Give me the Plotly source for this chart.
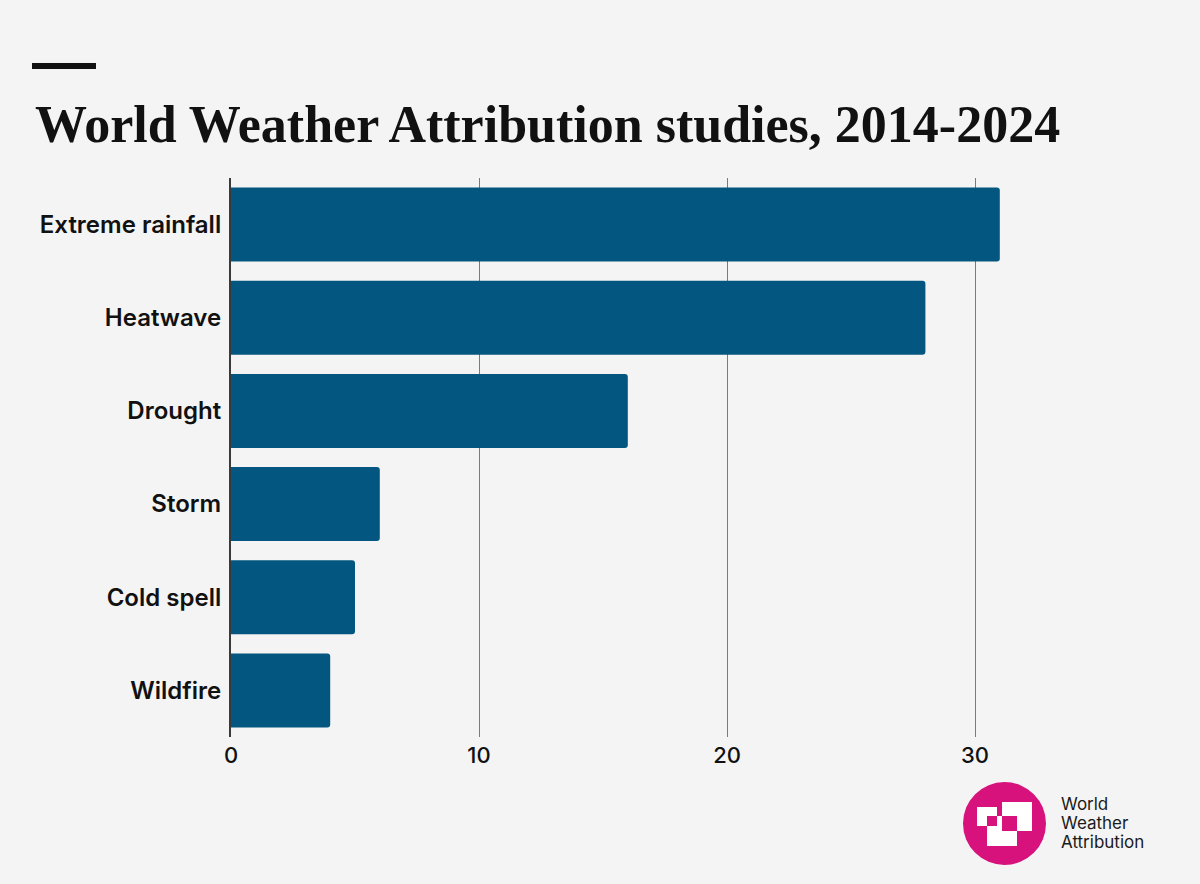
import plotly.graph_objects as go

# data
event_types = ["Extreme rainfall", "Heatwave", "Drought", "Storm", "Cold spell", "Wildfire"]
study_counts = [31, 28, 16, 6, 5, 4]
x_ticks = [0, 10, 20, 30]

W, H = 1200, 884
L, R, T, B = 231, 101, 178, 147
PW, PH = W - L - R, H - T - B

BAR = "#02567f"
PINK = "#d7127c"
BG = "#f4f4f4"


def px_x(p):
    return (p - L) / PW


def px_y(p):
    return (H - B - p) / PH


fig = go.Figure(go.Bar(
    x=study_counts,
    y=event_types,
    orientation="h",
    marker=dict(color=BAR, line=dict(width=0)),
    hoverinfo="x+y",
))

fig.update_layout(
    width=W, height=H,
    margin=dict(l=L, r=R, t=T, b=B),
    paper_bgcolor=BG, plot_bgcolor=BG,
    bargap=0.205,
    barcornerradius=3,
    showlegend=False,
    font=dict(family="Inter, Roboto, sans-serif", color="#111"),
)

fig.update_xaxes(
    range=[0, 35], tickvals=x_ticks, ticktext=[str(v) for v in x_ticks],
    showgrid=True, gridcolor="#7a7a7a", gridwidth=1,
    zeroline=False, showline=False, ticks="",
    tickfont=dict(size=22, weight=500, color="#111"),
    ticklabelstandoff=3, fixedrange=True,
)
fig.update_yaxes(
    autorange="reversed", showgrid=False, zeroline=False,
    showline=True, linecolor="#3a3a3a", linewidth=2, ticks="",
    tickfont=dict(size=24, weight=600, color="#111"),
    ticklabelstandoff=3, fixedrange=True,
)

# short rule above the title
fig.add_shape(type="rect", xref="paper", yref="paper",
              x0=px_x(32), x1=px_x(96), y0=px_y(69), y1=px_y(63),
              fillcolor="#111", line=dict(width=0))

fig.add_annotation(
    text="<b>World Weather Attribution studies, 2014-2024</b>",
    xref="paper", yref="paper", x=px_x(33), y=px_y(124),
    xanchor="left", yanchor="middle", showarrow=False,
    font=dict(family="Liberation Serif, Times New Roman, serif", size=52, color="#111"),
)

# logo: pink disc with overlapping squares
fig.add_shape(type="circle", xref="paper", yref="paper",
              x0=px_x(963), x1=px_x(1046), y0=px_y(865), y1=px_y(782),
              fillcolor=PINK, line=dict(width=0))
for (a, b, c, d, col) in [
    (977, 997, 807, 826, "white"),
    (1002, 1032, 802, 831, "white"),
    (987, 1017, 816, 846, "white"),
    (987, 997, 816, 826, PINK),
    (1002, 1017, 816, 831, PINK),
]:
    fig.add_shape(type="rect", xref="paper", yref="paper",
                  x0=px_x(a), x1=px_x(b), y0=px_y(d), y1=px_y(c),
                  fillcolor=col, line=dict(width=0))

for i, word in enumerate(["World", "Weather", "Attribution"]):
    fig.add_annotation(
        text=word, xref="paper", yref="paper",
        x=px_x(1060), y=px_y(803.5 + 19 * i),
        xanchor="left", yanchor="middle", showarrow=False,
        height=18, borderpad=0,
        font=dict(family="Inter, sans-serif", size=17, color="#1a1a1a"),
    )

fig.write_html(
    "out.html",
    config={"displayModeBar": False},
    post_script="document.body.style.margin='0';document.body.style.background='#f4f4f4';",
)
